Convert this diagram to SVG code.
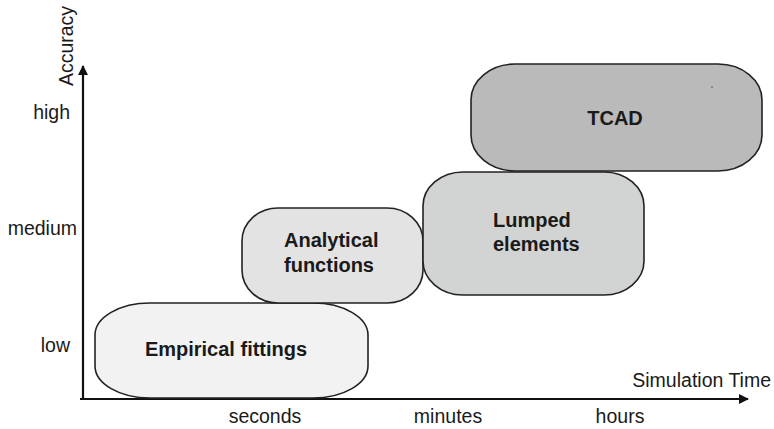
<svg xmlns="http://www.w3.org/2000/svg" width="774" height="429" viewBox="0 0 774 429">
<style>
.ax{font-family:"Liberation Sans",Arial,sans-serif;font-size:19.5px;fill:#1a1a1a}
.lb{font-family:"Liberation Sans",Arial,sans-serif;font-size:20px;font-weight:bold;fill:#1a1a1a}
.box{stroke:#222;stroke-width:1.6}
</style>
<defs>
<marker id="ah" markerWidth="10" markerHeight="10" refX="9" refY="5" orient="auto" markerUnits="userSpaceOnUse" viewBox="0 0 10 10">
<path d="M0,0 L10,5 L0,10 Z" fill="#111"/>
</marker>
</defs>
<rect width="774" height="429" fill="#fff"/>
<g id="connectors">
<line x1="83" y1="399" x2="83" y2="66" stroke="#111" stroke-width="2.2" marker-end="url(#ah)"/>
<line x1="80" y1="399" x2="748" y2="399" stroke="#111" stroke-width="2.2" marker-end="url(#ah)"/>
</g>
<g id="axis-labels">
<text class="ax" transform="translate(73,46) rotate(-90)" text-anchor="middle">Accuracy</text>
<text class="ax" x="70" y="119" text-anchor="end">high</text>
<text class="ax" x="77" y="235" text-anchor="end">medium</text>
<text class="ax" x="70" y="352" text-anchor="end">low</text>
<text class="ax" x="771" y="387" text-anchor="end">Simulation Time</text>
<text class="ax" x="265" y="423" text-anchor="middle">seconds</text>
<text class="ax" x="448" y="423" text-anchor="middle">minutes</text>
<text class="ax" x="620" y="423" text-anchor="middle">hours</text>
</g>
<g id="empirical">
<rect class="box" x="95" y="303" width="273" height="95" rx="55" ry="32" fill="#f2f2f2"/>
<text class="lb" x="226" y="356" text-anchor="middle">Empirical fittings</text>
</g>
<g id="analytical">
<rect class="box" x="242" y="208" width="181" height="95" rx="36" ry="33" fill="#e3e3e3"/>
<text class="lb" x="284" y="247">Analytical</text>
<text class="lb" x="284" y="272">functions</text>
</g>
<g id="lumped">
<rect class="box" x="423" y="172" width="221" height="123" rx="40" ry="34" fill="#d2d3d3"/>
<text class="lb" x="493" y="227">Lumped</text>
<text class="lb" x="493" y="251">elements</text>
</g>
<g id="tcad">
<rect class="box" x="471" y="64" width="291" height="107" rx="44" ry="36" fill="#bababa"/>
<text class="lb" x="615" y="125" text-anchor="middle">TCAD</text>
<circle cx="712" cy="87" r="1" fill="#777"/>
</g>
</svg>
